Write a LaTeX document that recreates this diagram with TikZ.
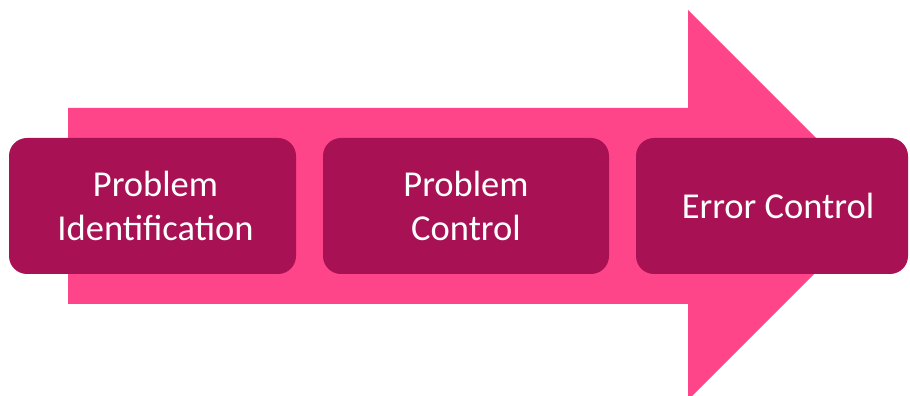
\documentclass[tikz,border=0pt]{standalone}
\usepackage{fontspec}
\setmainfont{Carlito}
\definecolor{flowpink}{RGB}{255,69,137}
\definecolor{stagebox}{RGB}{168,18,84}
\tikzset{
  stagebox/.style={fill=stagebox, rounded corners=18pt, minimum height=136pt,
    inner sep=0pt, text=white, align=center,
    font=\fontsize{36.5pt}{44pt}\selectfont},
  stagetext/.style={text=white, align=center, inner sep=0pt,
    font=\fontsize{36.5pt}{44pt}\selectfont},
}
\begin{document}
\begin{tikzpicture}[x=1pt,y=1pt]
  \useasboundingbox (0,0) rectangle (910,396);
  \clip (0,0) rectangle (910,396);
  % big process arrow behind the stages
  \fill[flowpink] (68,288) -- (688,288) -- (688,386) -- (883,191)
    -- (688,-4) -- (688,92) -- (68,92) -- cycle;
  % stages
  \node[stagebox, minimum width=287pt] (ident) at (152.5,190) {};
  \node[stagetext] at ([xshift=3pt]ident.center) {Problem\\Identification};
  \node[stagebox, minimum width=286pt] (pctrl) at (466,190) {Problem\\Control};
  \node[stagebox, minimum width=272pt] (ectrl) at (772,190) {};
  \node[stagetext] at ([xshift=6pt]ectrl.center) {Error Control};
\end{tikzpicture}
\end{document}
